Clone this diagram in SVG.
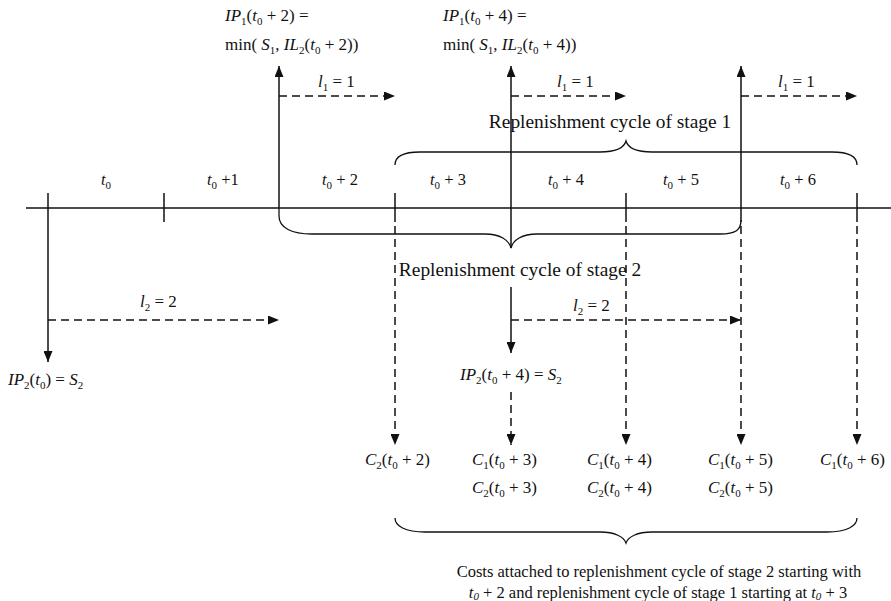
<svg xmlns="http://www.w3.org/2000/svg" width="891" height="601" viewBox="0 0 891 601">
<style>
  text { font-family: "Liberation Serif", "Times New Roman", serif; fill: #111; }
  .m { font-size: 17px; }
  .p { font-size: 16.5px; }
  .lab { font-size: 19.4px; }
  .cap { font-size: 16.5px; }
  .i { font-style: italic; }
  .s { font-size: 11px; }
  .solid { stroke: #111; stroke-width: 1.5; fill: none; }
  .dash { stroke: #111; stroke-width: 1.5; fill: none; stroke-dasharray: 8 5; }
  .brace { stroke: #111; stroke-width: 1.3; fill: none; }
</style>
<defs>
  <marker id="ah" viewBox="0 0 11 9" refX="11" refY="4.5" markerWidth="11" markerHeight="9" orient="auto" markerUnits="userSpaceOnUse">
    <path d="M0,0 L11,4.5 L0,9 z" fill="#111"/>
  </marker>
</defs>
<rect width="891" height="601" fill="#fff"/>

<g id="timeline">
  <line class="solid" x1="26" y1="208" x2="891" y2="208"/>
  <line class="solid" x1="164" y1="193" x2="164" y2="222"/>
  <line class="solid" x1="395" y1="193" x2="395" y2="222"/>
  <line class="solid" x1="626" y1="193" x2="626" y2="222"/>
  <line class="solid" x1="857" y1="193" x2="857" y2="222"/>
  <line class="solid" x1="48" y1="193" x2="48" y2="208"/>
</g>

<g id="period-labels" class="p">
  <text x="101" y="185"><tspan class="i">t</tspan><tspan class="s" dy="4">0</tspan></text>
  <text x="207" y="185"><tspan class="i">t</tspan><tspan class="s" dy="4">0</tspan><tspan dy="-4"> +1</tspan></text>
  <text x="322" y="185"><tspan class="i">t</tspan><tspan class="s" dy="4">0</tspan><tspan dy="-4"> + 2</tspan></text>
  <text x="430" y="185"><tspan class="i">t</tspan><tspan class="s" dy="4">0</tspan><tspan dy="-4"> + 3</tspan></text>
  <text x="548" y="185"><tspan class="i">t</tspan><tspan class="s" dy="4">0</tspan><tspan dy="-4"> + 4</tspan></text>
  <text x="663" y="185"><tspan class="i">t</tspan><tspan class="s" dy="4">0</tspan><tspan dy="-4"> + 5</tspan></text>
  <text x="780" y="185"><tspan class="i">t</tspan><tspan class="s" dy="4">0</tspan><tspan dy="-4"> + 6</tspan></text>
</g>

<g id="braces">
  <path class="brace" d="M395,165 C395,157 402,152 420,152 L600,152 C615,152 624,148 626,141 C628,148 637,152 652,152 L832,152 C850,152 857,157 857,165"/>
  <path class="brace" d="M279,208 L279,216 C279,228 292,234 312,234 L485,234 C500,234 509,240 511,248 C513,240 522,234 537,234 L720,234 C736,234 741,230 741,220"/>
  <path class="brace" d="M395,518 C395,526 405,532 425,532 L600,532 C615,532 624,537 626,543 C628,537 637,532 652,532 L827,532 C847,532 857,526 857,518"/>
  <text class="lab" x="610" y="128" text-anchor="middle">Replenishment cycle of stage 1</text>
  <text class="lab" x="520" y="276" text-anchor="middle">Replenishment cycle of stage 2</text>
</g>

<g id="connectors">
  <line class="solid" x1="279" y1="208" x2="279" y2="66" marker-end="url(#ah)"/>
  <line class="dash" x1="279" y1="96" x2="395" y2="96" marker-end="url(#ah)"/>
  <line class="solid" x1="511" y1="248" x2="511" y2="66" marker-end="url(#ah)"/>
  <line class="dash" x1="511" y1="96" x2="626" y2="96" marker-end="url(#ah)"/>
  <line class="solid" x1="741" y1="222" x2="741" y2="66" marker-end="url(#ah)"/>
  <line class="dash" x1="741" y1="96" x2="857" y2="96" marker-end="url(#ah)"/>
  <line class="solid" x1="48" y1="208" x2="48" y2="362" marker-end="url(#ah)"/>
  <line class="dash" x1="48" y1="320" x2="279" y2="320" marker-end="url(#ah)"/>
  <line class="solid" x1="511" y1="287" x2="511" y2="353" marker-end="url(#ah)"/>
  <line class="dash" x1="511" y1="320" x2="741" y2="320" marker-end="url(#ah)"/>
  <line class="dash" x1="395" y1="226" x2="395" y2="445" marker-end="url(#ah)"/>
  <line class="dash" x1="511" y1="392" x2="511" y2="445" marker-end="url(#ah)"/>
  <line class="dash" x1="626" y1="226" x2="626" y2="445" marker-end="url(#ah)"/>
  <line class="dash" x1="741" y1="226" x2="741" y2="445" marker-end="url(#ah)"/>
  <line class="dash" x1="857" y1="226" x2="857" y2="445" marker-end="url(#ah)"/>
</g>

<g id="lead-labels" class="m">
  <text x="318" y="87"><tspan class="i">l</tspan><tspan class="s" dy="4">1</tspan><tspan dy="-4"> = 1</tspan></text>
  <text x="557" y="87"><tspan class="i">l</tspan><tspan class="s" dy="4">1</tspan><tspan dy="-4"> = 1</tspan></text>
  <text x="778" y="87"><tspan class="i">l</tspan><tspan class="s" dy="4">1</tspan><tspan dy="-4"> = 1</tspan></text>
  <text x="140" y="307"><tspan class="i">l</tspan><tspan class="s" dy="4">2</tspan><tspan dy="-4"> = 2</tspan></text>
  <text x="573" y="311"><tspan class="i">l</tspan><tspan class="s" dy="4">2</tspan><tspan dy="-4"> = 2</tspan></text>
</g>

<g id="ip-labels" class="m">
  <text x="225" y="21"><tspan class="i">IP</tspan><tspan class="s" dy="4">1</tspan><tspan dy="-4">(</tspan><tspan class="i">t</tspan><tspan class="s" dy="4">0</tspan><tspan dy="-4"> + 2) =</tspan></text>
  <text x="225" y="50">min( <tspan class="i">S</tspan><tspan class="s" dy="4">1</tspan><tspan dy="-4">, </tspan><tspan class="i">IL</tspan><tspan class="s" dy="4">2</tspan><tspan dy="-4">(</tspan><tspan class="i">t</tspan><tspan class="s" dy="4">0</tspan><tspan dy="-4"> + 2))</tspan></text>
  <text x="443" y="21"><tspan class="i">IP</tspan><tspan class="s" dy="4">1</tspan><tspan dy="-4">(</tspan><tspan class="i">t</tspan><tspan class="s" dy="4">0</tspan><tspan dy="-4"> + 4) =</tspan></text>
  <text x="443" y="50">min( <tspan class="i">S</tspan><tspan class="s" dy="4">1</tspan><tspan dy="-4">, </tspan><tspan class="i">IL</tspan><tspan class="s" dy="4">2</tspan><tspan dy="-4">(</tspan><tspan class="i">t</tspan><tspan class="s" dy="4">0</tspan><tspan dy="-4"> + 4))</tspan></text>
  <text x="8" y="385"><tspan class="i">IP</tspan><tspan class="s" dy="4">2</tspan><tspan dy="-4">(</tspan><tspan class="i">t</tspan><tspan class="s" dy="4">0</tspan><tspan dy="-4">) = </tspan><tspan class="i">S</tspan><tspan class="s" dy="4">2</tspan></text>
  <text x="460" y="380"><tspan class="i">IP</tspan><tspan class="s" dy="4">2</tspan><tspan dy="-4">(</tspan><tspan class="i">t</tspan><tspan class="s" dy="4">0</tspan><tspan dy="-4"> + 4) = </tspan><tspan class="i">S</tspan><tspan class="s" dy="4">2</tspan></text>
</g>

<g id="cost-labels" class="m">
  <text x="365" y="465"><tspan class="i">C</tspan><tspan class="s" dy="4">2</tspan><tspan dy="-4">(</tspan><tspan class="i">t</tspan><tspan class="s" dy="4">0</tspan><tspan dy="-4"> + 2)</tspan></text>
  <text x="472" y="465"><tspan class="i">C</tspan><tspan class="s" dy="4">1</tspan><tspan dy="-4">(</tspan><tspan class="i">t</tspan><tspan class="s" dy="4">0</tspan><tspan dy="-4"> + 3)</tspan></text>
  <text x="472" y="493"><tspan class="i">C</tspan><tspan class="s" dy="4">2</tspan><tspan dy="-4">(</tspan><tspan class="i">t</tspan><tspan class="s" dy="4">0</tspan><tspan dy="-4"> + 3)</tspan></text>
  <text x="587" y="465"><tspan class="i">C</tspan><tspan class="s" dy="4">1</tspan><tspan dy="-4">(</tspan><tspan class="i">t</tspan><tspan class="s" dy="4">0</tspan><tspan dy="-4"> + 4)</tspan></text>
  <text x="587" y="493"><tspan class="i">C</tspan><tspan class="s" dy="4">2</tspan><tspan dy="-4">(</tspan><tspan class="i">t</tspan><tspan class="s" dy="4">0</tspan><tspan dy="-4"> + 4)</tspan></text>
  <text x="708" y="465"><tspan class="i">C</tspan><tspan class="s" dy="4">1</tspan><tspan dy="-4">(</tspan><tspan class="i">t</tspan><tspan class="s" dy="4">0</tspan><tspan dy="-4"> + 5)</tspan></text>
  <text x="708" y="493"><tspan class="i">C</tspan><tspan class="s" dy="4">2</tspan><tspan dy="-4">(</tspan><tspan class="i">t</tspan><tspan class="s" dy="4">0</tspan><tspan dy="-4"> + 5)</tspan></text>
  <text x="820" y="465"><tspan class="i">C</tspan><tspan class="s" dy="4">1</tspan><tspan dy="-4">(</tspan><tspan class="i">t</tspan><tspan class="s" dy="4">0</tspan><tspan dy="-4"> + 6)</tspan></text>
</g>

<g id="caption" class="cap">
  <text x="659" y="577" text-anchor="middle">Costs attached to replenishment cycle of stage 2 starting with</text>
  <text x="658" y="598" text-anchor="middle"><tspan class="i">t</tspan><tspan class="i" font-size="11px" dy="2">0</tspan><tspan dy="-2"> + 2 and replenishment cycle of stage 1 starting at </tspan><tspan class="i">t</tspan><tspan class="i" font-size="11px" dy="2">0</tspan><tspan dy="-2"> + 3</tspan></text>
</g>
</svg>
